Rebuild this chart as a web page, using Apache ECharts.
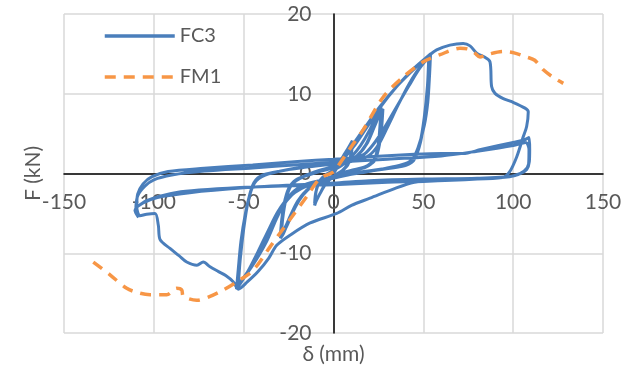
<!DOCTYPE html>
<html>
<head>
<meta charset="utf-8">
<script src="https://cdn.jsdelivr.net/npm/echarts@6/dist/echarts.min.js"></script>
<style>html,body{margin:0;padding:0;background:#fff;}#c{width:621px;height:374px;}</style>
</head>
<body>
<div id="c"></div>
<script>
// Ticks
const xTicks = [-150, -100, -50, 0, 50, 100, 150];
const yTicks = [-20, -10, 0, 10, 20];
const seriesNames = ['FC3', 'FM1'];

// FC3 hysteresis, phase by phase [δ mm, F kN]
const fc3Cycle10 = [[0,0],[3,1.1],[6,2.4],[9,3.5],[10.5,4.1],[10,2.9],[8.5,1.4],[5,0.4],[0,-0.3],[-4,-1.1],[-7,-2.3],[-9.5,-3.4],[-10.5,-4.0],[-10,-2.7],[-8.5,-1.2],[-5,-0.3],[0,0.3],[4,1.4],[7,2.6],[10.5,3.9],[10,2.6],[8,1.1],[4,0.2],[0,-0.4],[-4,-1.2],[-8,-2.7],[-10.5,-3.7],[-9.8,-2.3],[-7.5,-0.9],[-4,-0.1],[0,0.4]];
const fc3Cycle25 = [[5,1.1],[10,2.1],[15,3.5],[20,5.4],[24,7.3],[26.5,8.3],[26,6.4],[25,3.8],[23,1.9],[19,1.0],[12,0.5],[5,0.1],[0,-0.3],[-6,-0.8],[-12,-1.6],[-17,-2.7],[-21,-4.1],[-25,-6.0],[-28,-7.6],[-29.5,-8.1],[-29,-6.2],[-27.5,-3.8],[-25,-1.9],[-21,-0.8],[-14,-0.2],[-7,0.3],[0,0.7],
  [7,1.3],[13,2.2],[18,3.6],[22,5.6],[25,7.3],[27,8.1],[26.3,6.0],[25,3.4],[22.5,1.6],[18,0.8],[10,0.3],[0,-0.4],[-8,-1.0],[-14,-1.9],[-19,-3.2],[-23,-5.0],[-26,-6.6],[-29,-7.8],[-28.3,-5.7],[-26.5,-3.3],[-23.5,-1.5],[-18,-0.5],[-10,0.2],[0,0.8],
  [8,1.4],[14,2.4],[19,3.9],[23,6.0],[26,7.6],[27.5,8.1],[26.8,5.8],[25.2,3.2],[22.5,1.5],[16,0.7],[8,0.2],[0,-0.4],[-9,-1.1],[-15,-2.1],[-20,-3.5],[-24,-5.3],[-27,-6.8],[-29.5,-7.6],[-28.6,-5.4],[-26.6,-3.0],[-23,-1.3],[-16,-0.3],[-8,0.4],[0,0.9]];
const fc3Cycle50 = [[2,1.3],[8,2.8],[16.6,5.5],[25.9,8.4],[35.2,10.9],[44.4,13],[50,14.2],[54,15.0],
  [53.5,12.5],[52.5,9],[50.5,6],[47,3.2],[43.5,1.7],[38,1.1],[28,0.6],[18,0.2],[8,-0.2],[0,-0.6],[-10,-1.2],[-18,-1.9],[-25,-3.0],[-31,-4.8],[-36,-7.0],[-42,-9.8],[-47,-12.0],[-51,-13.5],[-54,-14.5],
  [-53,-12],[-51.5,-8.5],[-49,-5],[-46,-2.2],[-43,-0.8],[-38,-0.1],[-25,0.5],[-10,1.0],[0,1.3],[10,1.8],
  [17,2.4],[22,3.6],[28,5.6],[35,8.3],[42,11.0],[48,13.2],[53.3,14.7],
  [52.6,11.5],[51,7.5],[48.5,4],[45,1.8],[40,1.0],[25,0.5],[10,0],[0,-0.5],[-12,-1.2],[-20,-2.1],[-26,-3.4],[-31,-5.2],[-36,-7.6],[-42,-10.2],[-48,-12.4],[-53,-14.0],
  [-52,-11],[-50.5,-7.5],[-48,-4],[-45,-1.5],[-41,-0.4],[-30,0.3],[-15,0.8],[0,1.2],[12,1.6],
  [20,2.3],[25,3.6],[30,5.8],[36,8.6],[42,11.2],[48,13.3],[53,14.5],
  [52.3,11],[50.5,7],[48,3.7],[44.5,1.6],[38,0.9],[20,0.3],[0,-0.5],[-15,-1.3],[-22,-2.2],[-27,-3.6],[-32,-5.8],[-37,-8.4],[-43,-10.8],[-49,-12.8],[-53,-13.9],
  [-52,-11],[-50,-7],[-47.5,-3.5],[-44,-1.2],[-38,-0.2],[-25,0.5],[-10,1.0],[0,1.3]];
const fc3Cycle100 = [[6,2.0],[12,3.6],[18,5.6],[26,8.3],[35.2,10.9],[44.4,13.1],[53.7,14.9],[57.4,15.5],[64.8,16.1],[72.2,16.3],[76,16.0],[79.7,15.1],[84,14.6],[87.1,14.0],[88,10.9],[89.9,10.05],[94.5,9.4],[99.2,9.0],[106.6,8.2],[108.4,7.75],[107.5,5.9],[105.6,4.6],[102,2.1],[98,0.2],[94,-0.5],[75,-0.7],[55,-0.8],[45,-1.1],[35,-1.8],[20.3,-3.1],[10,-4.0],[1.8,-5.0],[-13,-6.2],[-24,-7.7],[-31.6,-9.0],[-36,-10.6],[-42,-12.3],[-48,-13.6],[-53,-14.5],[-55.7,-13.6],[-60,-12.8],[-64,-12.3],[-68.7,-11.7],[-72.5,-11.1],[-76,-11.5],[-81.7,-11.1],[-86,-10.3],[-91,-9.4],[-96.5,-8.3],[-97.5,-6.5],[-99.3,-5.0],[-104,-5.1],[-107.7,-5.3],[-109.5,-4.2],
  [-109,-2.6],[-106,-1.3],[-101,-0.4],[-92,0.25],[-72,0.65],[-45,1.07],[-20,1.5],[0,1.8],[20,2.1],[45,2.4],[60,2.5],[72,2.5],[82,3.0],[92,3.5],[100,3.9],[106,4.2],[108.8,4.5],[109.2,3],[109,1.5],[107.5,0.5],[104,0.0],[98,-0.4],[80,-0.7],[50,-1.0],[30,-1.1],[0,-1.4],[-20,-1.5],[-45,-1.7],[-70,-2.0],[-85,-2.3],[-96,-2.8],[-104,-3.4],[-110,-4.3],
  [-109,-2.8],[-105,-1.6],[-100,-0.8],[-90,-0.2],[-72,0.3],[-45,0.7],[-20,1.1],[0,1.4],[30,1.8],[60,2.2],[80,2.8],[100,3.5],[107,3.9],[108.8,3.0],[108.6,1.2],[106,0.3],[100,-0.3],[80,-0.6],[50,-0.7],[20,-0.9],[0,-1.2],[-20,-1.4],[-50,-1.8],[-80,-2.4],[-98,-3.0],[-106,-3.7],[-110.5,-4.6],[-108.5,-5.5]];

// FM1 envelope [δ mm, F kN]
const fm1 = [[-133.7,-11.1],[-124.4,-12.7],[-115.1,-14.4],[-108,-15.0],[-102.1,-15.2],[-92.8,-15.2],[-87.3,-14.4],[-84.5,-14.6],[-83.6,-15.4],[-76.1,-15.9],[-68.7,-15.4],[-61.3,-14.6],[-53.9,-13.6],[-44.6,-12.1],[-35.3,-9.2],[-27.9,-6.9],[-22.4,-5.2],[-14.9,-2.9],[-7.5,-0.6],[0,0.2],[3.6,1.3],[10,3.4],[16.6,5.5],[27.7,9.6],[38.8,12.1],[50,14.0],[59.3,14.9],[70.4,15.7],[75,15.6],[78.7,15.1],[81.5,14.6],[85.3,14.9],[94.5,15.3],[101,15.1],[107.5,14.6],[112,14.2],[116.8,13.0],[122,12.1],[127.9,11.3]];

const fc3 = [].concat(fc3Cycle10, fc3Cycle25, fc3Cycle50, fc3Cycle100);

const FONT = 'Lato';
const TXT = '#595959';
const GRID = {left: 64, right: 18, top: 14, bottom: 41};
const W = 621, H = 374;
const plotW = W - GRID.left - GRID.right, plotH = H - GRID.top - GRID.bottom;
// shift axes from grid edges onto the zero lines (Excel "axis crosses at 0")
const xOffset = -plotH * (0 - yTicks[0]) / (yTicks[yTicks.length - 1] - yTicks[0]);
const yOffset = -plotW * (0 - xTicks[0]) / (xTicks[xTicks.length - 1] - xTicks[0]);

const chart = echarts.init(document.getElementById('c'), null, {renderer: 'canvas'});
chart.setOption({
  animation: false,
  backgroundColor: '#fff',
  grid: Object.assign({containLabel: false, outerBoundsMode: 'none'}, GRID),
  legend: {
    data: seriesNames,
    orient: 'vertical',
    left: 98, top: 21,
    itemWidth: 70, itemHeight: 14, itemGap: 21,
    itemStyle: {opacity: 0},
    lineStyle: {width: 3.5},
    textStyle: {fontFamily: FONT, fontSize: 20, color: TXT}
  },
  xAxis: {
    type: 'value', min: xTicks[0], max: xTicks[xTicks.length - 1], interval: 50,
    position: 'bottom', offset: xOffset,
    name: 'δ (mm)', nameLocation: 'middle', nameGap: 170,
    nameTextStyle: {fontFamily: FONT, fontSize: 21, color: TXT},
    axisLine: {onZero: false, lineStyle: {color: '#000', width: 1.5}},
    axisTick: {show: false},
    axisLabel: {fontFamily: FONT, fontSize: 21, color: TXT, margin: 18},
    splitLine: {show: true, lineStyle: {color: '#d9d9d9', width: 1.5}}
  },
  yAxis: {
    type: 'value', min: yTicks[0], max: yTicks[yTicks.length - 1], interval: 10,
    position: 'left', offset: yOffset,
    name: 'F (kN)', nameLocation: 'middle', nameGap: 290, nameRotate: 90,
    nameTextStyle: {fontFamily: FONT, fontSize: 21, color: TXT},
    axisLine: {onZero: false, lineStyle: {color: '#000', width: 1.5}},
    axisTick: {show: false},
    axisLabel: {fontFamily: FONT, fontSize: 21, color: TXT, margin: 22},
    splitLine: {show: true, lineStyle: {color: '#d9d9d9', width: 1.5}}
  },
  series: [
    {name: seriesNames[0], type: 'line', data: fc3, symbol: 'none', smooth: 0.3,
     lineStyle: {color: '#4a7ebb', width: 3}, itemStyle: {color: '#4a7ebb'}},
    {name: seriesNames[1], type: 'line', data: fm1, symbol: 'none', smooth: 0.3,
     lineStyle: {color: '#f79646', width: 3.5, type: [11, 8]}, itemStyle: {color: '#f79646'}}
  ]
});
</script>
</body>
</html>
